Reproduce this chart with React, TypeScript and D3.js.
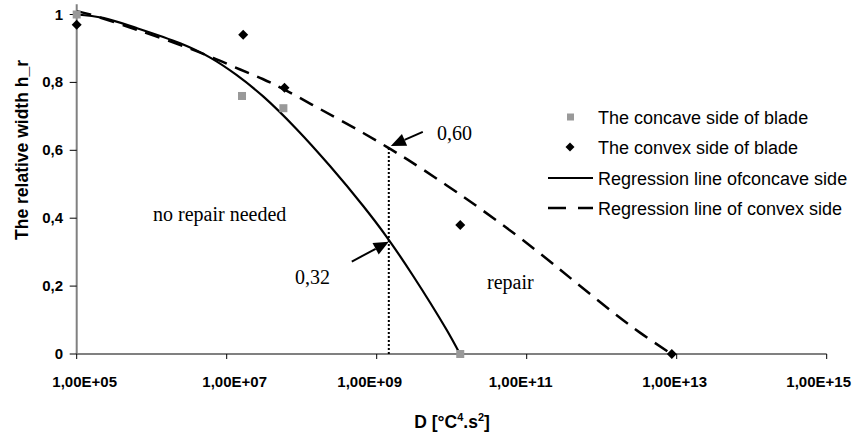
import React from "react";
import * as d3 from "d3";

// ---- data ----
const concaveD = [1e5, 1.6e7, 5.7e7, 1.3e10];
const concaveH = [1.0, 0.76, 0.724, 0];

const convexD = [1e5, 1.66e7, 5.9e7, 1.3e10, 8.6e12];
const convexH = [0.97, 0.94, 0.784, 0.38, 0];

// regression lines (log10 D, h)
const concaveFitLog = [5.0, 5.35, 5.8, 6.38, 6.78, 7.13, 7.49, 7.93, 8.38, 8.82, 9.13, 9.48, 9.93, 10.11];
const concaveFitH = [1.0, 0.99, 0.96, 0.915, 0.873, 0.822, 0.758, 0.663, 0.553, 0.436, 0.346, 0.232, 0.072, 0];

const convexFitLog = [5.0, 5.18, 5.8, 6.47, 6.82, 7.18, 7.48, 7.75, 8.24, 8.82, 9.18, 9.48, 10.15, 10.82, 11.27, 11.62, 12.2, 12.51, 12.93];
const convexFitH = [1.01, 1.0, 0.955, 0.903, 0.872, 0.838, 0.81, 0.781, 0.722, 0.651, 0.604, 0.563, 0.464, 0.357, 0.28, 0.217, 0.114, 0.063, 0];

const thresholdD = 1.45e9;
const thresholdConvex = 0.61;
const thresholdConcave = 0.331;

const xTicks = [1e5, 1e7, 1e9, 1e11, 1e13, 1e15];
const xTickLabels = ["1,00E+05", "1,00E+07", "1,00E+09", "1,00E+11", "1,00E+13", "1,00E+15"];
const yTicks = [0, 0.2, 0.4, 0.6, 0.8, 1];
const yTickLabels = ["0", "0,2", "0,4", "0,6", "0,8", "1"];

const legendLabels = [
  "The concave side of blade",
  "The convex side of blade",
  "Regression line ofconcave side",
  "Regression line of convex side",
];

// label nudges (px) as the reference lays them out
const xLabelNudge = [8, 8, -7, -6, -2, -8];

const SANS = "Arial, 'Liberation Sans', sans-serif";
const SERIF = "'Times New Roman', 'Liberation Serif', serif";

function Arrow({ tip, dx, dy }: { tip: [number, number]; dx: number; dy: number }) {
  const [tx, ty] = tip;
  const sx = tx + dx;
  const sy = ty + dy;
  const len = Math.hypot(dx, dy);
  const ux = -dx / len;
  const uy = -dy / len;
  const hl = 15;
  const hw = 6.5;
  const bx = tx - ux * hl;
  const by = ty - uy * hl;
  const px = -uy;
  const py = ux;
  return (
    <g>
      <line x1={sx} y1={sy} x2={bx} y2={by} stroke="#000" strokeWidth={2} />
      <polygon
        points={`${tx},${ty} ${bx + px * hw},${by + py * hw} ${bx - px * hw},${by - py * hw}`}
        fill="#000"
      />
    </g>
  );
}

export default function App() {
  const x = d3.scaleLog().domain([1e5, 1e15]).range([76.7, 826.7]);
  const y = d3.scaleLinear().domain([0, 1]).range([354, 14.5]);

  const line = d3
    .line<[number, number]>()
    .x((d) => x(Math.pow(10, d[0])))
    .y((d) => y(d[1]))
    .curve(d3.curveCatmullRom.alpha(0.5));

  const concavePath = line(concaveFitLog.map((l, i) => [l, concaveFitH[i]]))!;
  const convexPath = line(convexFitLog.map((l, i) => [l, convexFitH[i]]))!;

  const legendY = [117, 147, 178, 208];

  return (
    <svg
      width={856}
      height={438}
      style={{ position: "absolute", left: 0, top: 0, background: "#fff" }}
    >
      <rect x={0} y={0} width={856} height={438} fill="#fff" />
      {/* axes */}
      <line x1={x(1e5)} y1={y(0)} x2={x(1e5)} y2={y(1.03)} stroke="#808080" strokeWidth={2} />
      <line x1={x(1e5)} y1={y(0)} x2={x(1e15)} y2={y(0)} stroke="#808080" strokeWidth={2} />
      {xTicks.map((t, i) => (
        <g key={"xt" + i}>
          <line x1={x(t)} x2={x(t)} y1={y(0)} y2={y(0) + 5} stroke="#000" strokeWidth={1} />
          <text
            x={x(t) + xLabelNudge[i]}
            y={387}
            textAnchor="middle"
            fontFamily={SANS}
            fontWeight="bold"
            fontSize={15}
          >
            {xTickLabels[i]}
          </text>
        </g>
      ))}
      {yTicks.map((t, i) => (
        <g key={"yt" + i}>
          <line x1={x(1e5) - 7} x2={x(1e5)} y1={y(t)} y2={y(t)} stroke="#000" strokeWidth={1} />
          <text
            x={63}
            y={y(t) + 5}
            textAnchor="end"
            fontFamily={SANS}
            fontWeight="bold"
            fontSize={15}
          >
            {yTickLabels[i]}
          </text>
        </g>
      ))}
      {/* axis titles */}
      <text
        transform={`translate(28,150) rotate(-90)`}
        textAnchor="middle"
        fontFamily={SANS}
        fontWeight="bold"
        fontSize={17.5}
      >
        The relative width h_r
      </text>
      <text x={452} y={428} textAnchor="middle" fontFamily={SANS} fontWeight="bold" fontSize={17.5}>
        D [°C<tspan dy={-7} fontSize={11}>4</tspan>
        <tspan dy={7}>.s</tspan>
        <tspan dy={-7} fontSize={11}>2</tspan>
        <tspan dy={7}>]</tspan>
      </text>

      {/* dotted threshold */}
      <line
        x1={x(thresholdD)}
        x2={x(thresholdD)}
        y1={y(0)}
        y2={y(thresholdConvex)}
        stroke="#000"
        strokeWidth={2}
        strokeDasharray="2,2"
      />

      {/* regression lines */}
      <path d={concavePath} fill="none" stroke="#000" strokeWidth={2.2} />
      <path d={convexPath} fill="none" stroke="#000" strokeWidth={2.5} strokeDasharray="15,9" />

      {/* markers */}
      {concaveD.map((d, i) => (
        <rect
          key={"sq" + i}
          x={x(d) - 4}
          y={y(concaveH[i]) - 4}
          width={8}
          height={8}
          fill="#999999"
        />
      ))}
      {convexD.map((d, i) => {
        const cx = x(d);
        const cy = y(convexH[i]);
        const r = 5;
        return (
          <polygon
            key={"dm" + i}
            points={`${cx},${cy - r} ${cx + r},${cy} ${cx},${cy + r} ${cx - r},${cy}`}
            fill="#000"
          />
        );
      })}

      {/* annotations */}
      <Arrow tip={[x(thresholdD) + 2, y(thresholdConvex) - 1]} dx={32} dy={-14} />
      <Arrow tip={[x(thresholdD), y(thresholdConcave)]} dx={-37} dy={20} />
      <text x={437} y={140} fontFamily={SERIF} fontSize={20}>0,60</text>
      <text x={295} y={284} fontFamily={SERIF} fontSize={20}>0,32</text>
      <text x={153} y={221} fontFamily={SERIF} fontSize={20}>no repair needed</text>
      <text x={487} y={289} fontFamily={SERIF} fontSize={20}>repair</text>

      {/* legend */}
      <rect x={567} y={legendY[0] - 3.5} width={7} height={7} fill="#999999" />
      <polygon
        points={`570,${legendY[1] - 4.5} 574.5,${legendY[1]} 570,${legendY[1] + 4.5} 565.5,${legendY[1]}`}
        fill="#000"
      />
      <line x1={548} x2={593} y1={legendY[2]} y2={legendY[2]} stroke="#000" strokeWidth={2.2} />
      <line
        x1={548}
        x2={593}
        y1={legendY[3]}
        y2={legendY[3]}
        stroke="#000"
        strokeWidth={2.5}
        strokeDasharray="18,12"
      />
      {legendLabels.map((l, i) => (
        <text key={"lg" + i} x={598} y={legendY[i] + 6.5} fontFamily={SANS} fontSize={18}>
          {l}
        </text>
      ))}
    </svg>
  );
}
